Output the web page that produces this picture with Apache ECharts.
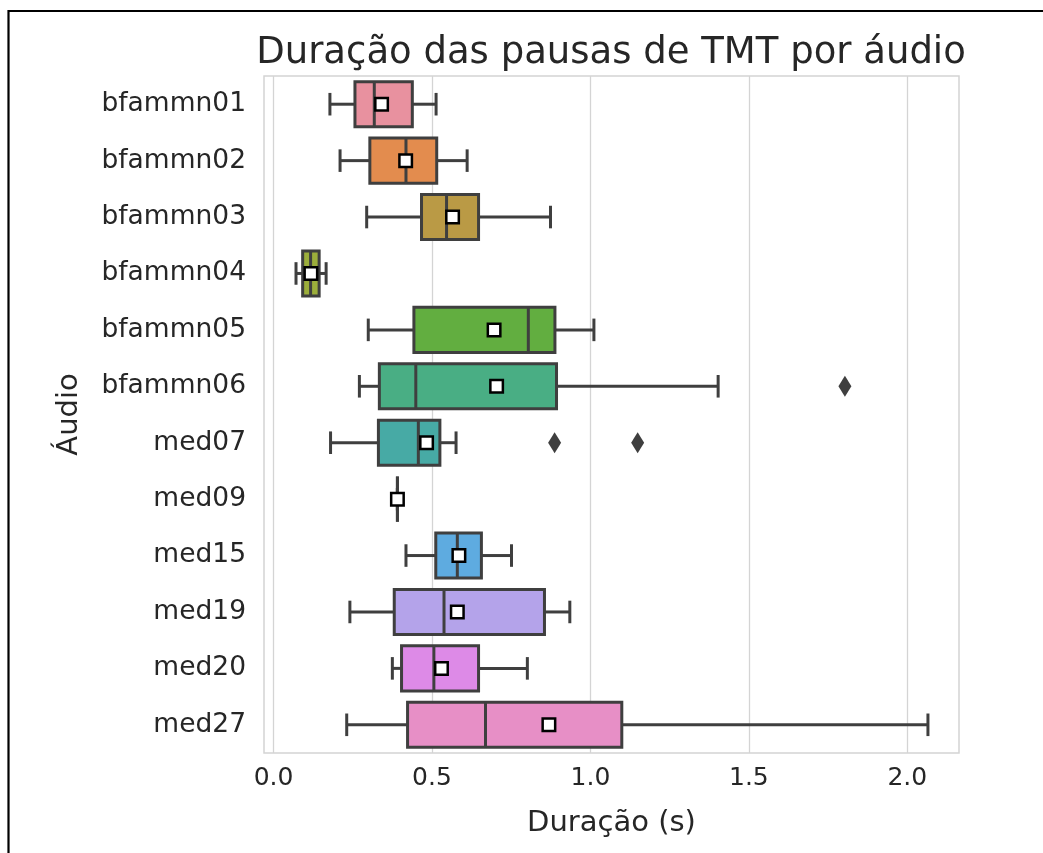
<!DOCTYPE html>
<html>
<head>
<meta charset="utf-8">
<script src="https://cdn.jsdelivr.net/npm/echarts@6/dist/echarts.min.js"></script>
<style>
  html, body { margin: 0; padding: 0; background: #fff; }
  #chart { width: 1043px; height: 853px; }
</style>
</head>
<body>
<div id="chart"></div>
<script>
var categories = ['bfammn01', 'bfammn02', 'bfammn03', 'bfammn04', 'bfammn05', 'bfammn06',
  'med07', 'med09', 'med15', 'med19', 'med20', 'med27']
var whiskerLow = [0.178, 0.210, 0.294, 0.071, 0.299, 0.271, 0.180, 0.391, 0.418, 0.241, 0.375, 0.231]
var q1 = [0.257, 0.304, 0.467, 0.092, 0.443, 0.334, 0.331, 0.391, 0.512, 0.381, 0.404, 0.423]
var median = [0.318, 0.418, 0.546, 0.117, 0.804, 0.449, 0.457, 0.391, 0.580, 0.538, 0.506, 0.669]
var q3 = [0.438, 0.515, 0.647, 0.144, 0.888, 0.893, 0.525, 0.391, 0.656, 0.855, 0.647, 1.099]
var whiskerHigh = [0.513, 0.611, 0.874, 0.166, 1.011, 1.403, 0.576, 0.391, 0.751, 0.935, 0.801, 2.065]
var means = [0.341, 0.417, 0.565, 0.118, 0.696, 0.704, 0.483, 0.391, 0.585, 0.580, 0.530, 0.869]
// [valor, índice do áudio]
var outliers = [[1.803, 5], [0.887, 6], [1.149, 6]]
var xTicks = [0, 0.5, 1, 1.5, 2]

var palette = ['#e8919f', '#e38c4e', '#ba9a45', '#9cae3b', '#62ae40', '#49ae84',
  '#47aaa5', '#4ba9c2', '#5eabe0', '#b4a3ea', '#dd8ae7', '#e78fc6']
var edge = '#3f3f3f'
var font = 'DejaVu Sans'

var boxData = categories.map(function (c, i) {
  return [i, whiskerLow[i], q1[i], median[i], q3[i], whiskerHigh[i]]
})

function renderBox(params, api) {
  var y = api.value(0)
  var lo = api.coord([api.value(1), y])
  var b1 = api.coord([api.value(2), y])
  var md = api.coord([api.value(3), y])
  var b3 = api.coord([api.value(4), y])
  var hi = api.coord([api.value(5), y])
  var h = api.size([0, 1])[1] * 0.8
  var cy = lo[1]
  var line = { stroke: edge, lineWidth: 3 }
  return {
    type: 'group',
    children: [
      { type: 'line', shape: { x1: lo[0], y1: cy, x2: b1[0], y2: cy }, style: line },
      { type: 'line', shape: { x1: b3[0], y1: cy, x2: hi[0], y2: cy }, style: line },
      { type: 'line', shape: { x1: lo[0], y1: cy - h / 4, x2: lo[0], y2: cy + h / 4 }, style: line },
      { type: 'line', shape: { x1: hi[0], y1: cy - h / 4, x2: hi[0], y2: cy + h / 4 }, style: line },
      {
        type: 'rect',
        shape: { x: b1[0], y: cy - h / 2, width: b3[0] - b1[0], height: h },
        style: { fill: palette[params.dataIndex], stroke: edge, lineWidth: 3 }
      },
      { type: 'line', shape: { x1: md[0], y1: cy - h / 2, x2: md[0], y2: cy + h / 2 }, style: line }
    ]
  }
}

var chart = echarts.init(document.getElementById('chart'))
chart.setOption({
  backgroundColor: '#fff',
  animation: false,
  graphic: [
    {
      type: 'rect',
      shape: { x: 8.5, y: 11, width: 1100, height: 900 },
      style: { fill: 'none', stroke: '#000', lineWidth: 2.2 },
      silent: true
    },
    {
      type: 'text',
      x: 611,
      y: 53,
      style: {
        text: 'Duração das pausas de TMT por áudio',
        font: '37px "DejaVu Sans"',
        fill: '#262626',
        textAlign: 'center',
        textVerticalAlign: 'middle'
      }
    }
  ],
  grid: {
    left: 264,
    right: 84,
    top: 76,
    bottom: 100,
    show: true,
    borderColor: '#d4d4d4',
    borderWidth: 1.5,
    backgroundColor: '#fff'
  },
  xAxis: {
    type: 'value',
    min: -0.03,
    max: 2.163,
    name: 'Duração (s)',
    nameLocation: 'middle',
    nameGap: 56,
    nameTextStyle: { fontFamily: font, fontSize: 29, color: '#262626' },
    axisLine: { show: false },
    axisTick: { show: false, customValues: xTicks },
    axisLabel: {
      customValues: xTicks,
      margin: 13,
      fontFamily: font,
      fontSize: 25,
      color: '#262626',
      formatter: function (v) { return v.toFixed(1) }
    },
    splitLine: { show: true, lineStyle: { color: '#d4d4d4', width: 1.3 } }
  },
  yAxis: {
    type: 'category',
    data: categories,
    inverse: true,
    name: 'Áudio',
    nameLocation: 'middle',
    nameGap: 180,
    nameTextStyle: { fontFamily: font, fontSize: 29, color: '#262626' },
    axisLine: { show: false },
    axisTick: { show: false },
    axisLabel: { margin: 18, fontFamily: font, fontSize: 26.5, color: '#262626', padding: [4, 0, 0, 0] },
    splitLine: { show: false }
  },
  series: [
    {
      type: 'custom',
      name: 'caixas',
      renderItem: renderBox,
      encode: { x: [1, 2, 3, 4, 5], y: 0 },
      data: boxData,
      z: 2
    },
    {
      type: 'scatter',
      name: 'média',
      data: means.map(function (m, i) { return [m, i] }),
      symbol: 'rect',
      symbolSize: 12.5,
      itemStyle: { color: '#fff', borderColor: '#000', borderWidth: 2.5, opacity: 1 },
      z: 5
    },
    {
      type: 'scatter',
      name: 'outliers',
      data: outliers,
      symbol: 'diamond',
      symbolSize: [13, 21],
      itemStyle: { color: edge, opacity: 1 },
      z: 4
    }
  ]
})
</script>
</body>
</html>
